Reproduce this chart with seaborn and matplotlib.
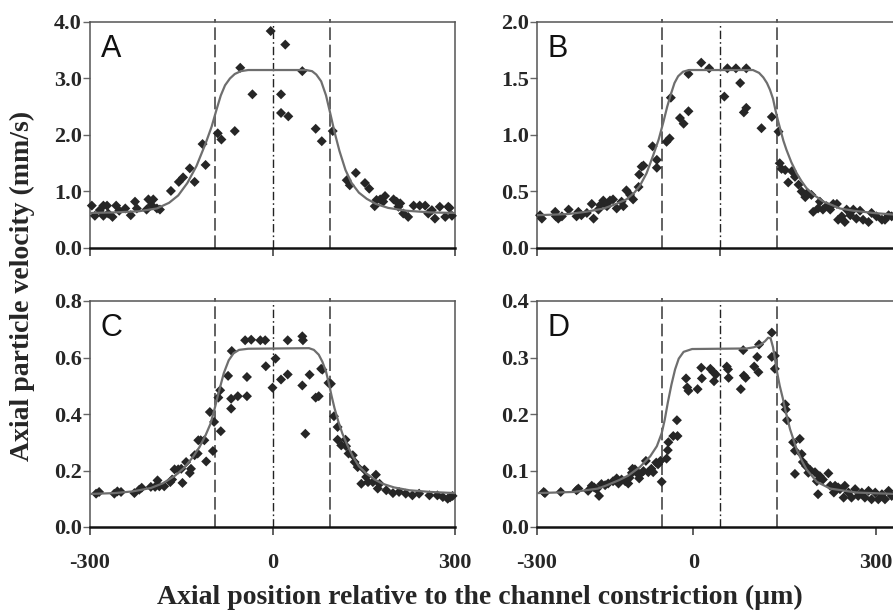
import numpy as np
import pandas as pd
import matplotlib
matplotlib.use("Agg")
import matplotlib.pyplot as plt
import seaborn as sns

# ---------------- data ----------------
# Panel A
a_x = [-297, -292, -284, -278, -278, -272, -270, -263, -257, -252, -242, -233, -226, -223,
       -207, -204, -199, -196, -190, -185, -167, -154, -147, -136, -128, -115, -110, -90, -84,
       -62, -53, -33, -3, 14, 14, 21, 26, 49, 71, 81, 99, 122, 127, 137, 152, 159, 168, 171,
       177, 182, 185, 199, 204, 207, 210, 215, 223, 232, 242, 251, 256, 262, 267, 275, 284,
       289, 291, 295]
a_y = [0.75, 0.57, 0.67, 0.75, 0.57, 0.75, 0.61, 0.55, 0.75, 0.66, 0.70, 0.58, 0.82, 0.70,
       0.68, 0.86, 0.76, 0.86, 0.70, 0.68, 1.01, 1.17, 1.25, 1.41, 1.17, 1.84, 1.47, 2.03, 1.92,
       2.07, 3.19, 2.72, 3.84, 2.72, 2.39, 3.60, 2.33, 3.13, 2.11, 1.89, 2.07, 1.20, 1.11, 1.33,
       1.15, 1.05, 0.74, 0.85, 0.86, 0.82, 0.92, 0.86, 0.82, 0.73, 0.79, 0.61, 0.55, 0.75, 0.75,
       0.75, 0.61, 0.67, 0.52, 0.73, 0.55, 0.73, 0.71, 0.57]
a_fit_x = [-300, -260, -220, -190, -170, -155, -140, -125, -110, -100, -92, -85, -78, -70, -62,
           -52, -40, 0, 55, 65, 72, 80, 88, 95, 102, 110, 120, 130, 142, 155, 170, 190, 220, 260, 300]
a_fit_y = [0.62, 0.63, 0.65, 0.70, 0.80, 0.93, 1.15, 1.45, 1.85, 2.15, 2.45, 2.70, 2.88, 3.00,
           3.08, 3.13, 3.15, 3.15, 3.15, 3.13, 3.07, 2.95, 2.70, 2.38, 2.05, 1.72, 1.38, 1.15,
           0.98, 0.87, 0.78, 0.71, 0.66, 0.63, 0.62]

# Panel B
b_x = [-295, -292, -270, -269, -265, -259, -248, -235, -232, -227, -218, -210, -207, -199, -196,
       -191, -185, -180, -175, -169, -161, -158, -153, -147, -142, -133, -132, -128, -125, -110,
       -103, -103, -87, -82, -80, -65, -59, -51, -51, -30, -17, 8, 13, 27, 34, 40, 44, 44, 69, 86,
       97, 99, 102, 108, 113, 119, 124, 130, 135, 141, 143, 151, 154, 162, 165, 170, 176, 182,
       187, 193, 195, 201, 206, 209, 215, 220, 225, 231, 236, 245, 250, 258, 267, 272, 278, 283]
b_y = [0.29, 0.26, 0.32, 0.28, 0.26, 0.28, 0.34, 0.28, 0.32, 0.29, 0.31, 0.39, 0.26, 0.34, 0.38,
       0.42, 0.37, 0.42, 0.43, 0.35, 0.41, 0.37, 0.51, 0.47, 0.43, 0.54, 0.65, 0.72, 0.73, 0.90,
       0.78, 0.71, 0.94, 0.97, 1.33, 1.15, 1.10, 1.21, 1.54, 1.64, 1.59, 1.34, 1.59, 1.59, 1.46,
       1.20, 1.24, 1.59, 1.06, 1.16, 1.03, 0.75, 0.70, 0.69, 0.58, 0.68, 0.63, 0.56, 0.50, 0.45,
       0.48, 0.47, 0.32, 0.35, 0.41, 0.34, 0.37, 0.34, 0.39, 0.39, 0.25, 0.28, 0.23, 0.34, 0.29,
       0.34, 0.26, 0.33, 0.25, 0.23, 0.31, 0.28, 0.25, 0.25, 0.29, 0.28]
b_fit_x = [-300, -250, -220, -190, -170, -153, -140, -131, -120, -109, -100, -92, -86, -80, -74,
           -68, -60, -50, 55, 65, 72, 78, 83, 88, 92, 96, 100, 105, 110, 118, 127, 135, 143, 155,
           171, 185, 198, 220, 253, 300]
b_fit_y = [0.29, 0.30, 0.32, 0.35, 0.39, 0.43, 0.49, 0.55, 0.66, 0.82, 0.96, 1.12, 1.25, 1.36,
           1.46, 1.52, 1.56, 1.575, 1.575, 1.55, 1.51, 1.46, 1.40, 1.32, 1.22, 1.13, 1.05, 0.95,
           0.87, 0.76, 0.66, 0.59, 0.53, 0.47, 0.41, 0.38, 0.35, 0.33, 0.31, 0.29]

# Panel C
c_x = [-290, -285, -260, -255, -249, -227, -219, -215, -200, -193, -189, -186, -178, -168, -165,
       -161, -155, -148, -150, -142, -136, -134, -128, -123, -122, -118, -112, -109, -103, -98,
       -96, -89, -86, -85, -73, -68, -68, -67, -57, -45, -42, -42, -35, -20, -12, -11, 0, 5, 14,
       25, 25, 49, 49, 50, 54, 61, 71, 76, 80, 82, 92, 96, 101, 107, 107, 113, 120, 121, 125, 132,
       135, 140, 146, 151, 154, 157, 165, 170, 173, 176, 187, 198, 208, 219, 230, 241, 258, 271,
       280, 288, 292, 296]
c_y = [0.118, 0.124, 0.118, 0.126, 0.124, 0.120, 0.132, 0.139, 0.142, 0.142, 0.165, 0.144, 0.144,
       0.159, 0.168, 0.204, 0.204, 0.156, 0.206, 0.230, 0.191, 0.206, 0.254, 0.260, 0.307, 0.307,
       0.307, 0.232, 0.407, 0.269, 0.372, 0.458, 0.484, 0.339, 0.535, 0.419, 0.454, 0.623, 0.463,
       0.661, 0.531, 0.463, 0.663, 0.661, 0.661, 0.569, 0.493, 0.596, 0.522, 0.540, 0.661, 0.501,
       0.675, 0.661, 0.330, 0.539, 0.458, 0.463, 0.560, 0.557, 0.510, 0.507, 0.392, 0.354, 0.309,
       0.289, 0.309, 0.286, 0.260, 0.254, 0.230, 0.212, 0.153, 0.203, 0.177, 0.159, 0.159, 0.185,
       0.136, 0.153, 0.130, 0.120, 0.124, 0.118, 0.112, 0.118, 0.112, 0.112, 0.106, 0.100, 0.105,
       0.110]
c_fit_x = [-300, -260, -230, -200, -180, -160, -145, -130, -120, -110, -102, -95, -88, -80, -72,
           -64, -55, -40, 60, 68, 76, 82, 88, 93, 97, 102, 108, 115, 123, 132, 142, 154, 168, 181,
           200, 225, 260, 300]
c_fit_y = [0.117, 0.120, 0.126, 0.138, 0.155, 0.182, 0.210, 0.250, 0.283, 0.325, 0.365, 0.420,
           0.480, 0.545, 0.590, 0.615, 0.627, 0.631, 0.633, 0.627, 0.610, 0.585, 0.550, 0.505,
           0.465, 0.420, 0.375, 0.330, 0.290, 0.250, 0.215, 0.190, 0.168, 0.153, 0.140, 0.130,
           0.124, 0.120]

# Panel D
d_x = [-289, -287, -261, -235, -232, -216, -210, -206, -202, -198, -194, -188, -183, -175, -169,
       -166, -161, -155, -150, -148, -144, -143, -139, -136, -132, -131, -125, -121, -117, -112,
       -109, -104, -101, -97, -95, -87, -85, -84, -76, -70, -69, -55, -53, -51, -36, -30, -29,
       -15, -10, -9, -6, 12, 14, 15, 35, 39, 40, 43, 57, 62, 64, 65, 86, 86, 91, 91, 108, 109, 111,
       121, 124, 132, 135, 137, 124, 142, 149, 146, 157, 160, 165, 170, 162, 179, 182, 188, 190,
       195, 198, 204, 206, 212, 217, 223, 228, 234, 239, 245, 250, 256, 261, 267, 272, 278, 283]
d_y = [0.062, 0.060, 0.062, 0.065, 0.068, 0.064, 0.073, 0.070, 0.067, 0.055, 0.076, 0.074, 0.077,
       0.081, 0.086, 0.077, 0.084, 0.081, 0.077, 0.087, 0.096, 0.103, 0.102, 0.096, 0.086, 0.093,
       0.099, 0.117, 0.097, 0.103, 0.097, 0.114, 0.111, 0.117, 0.080, 0.121, 0.136, 0.150, 0.161,
       0.189, 0.161, 0.263, 0.247, 0.241, 0.244, 0.282, 0.263, 0.280, 0.274, 0.258, 0.270, 0.284,
       0.279, 0.264, 0.244, 0.313, 0.268, 0.264, 0.284, 0.301, 0.274, 0.323, 0.344, 0.301, 0.303,
       0.280, 0.217, 0.208, 0.189, 0.150, 0.135, 0.156, 0.129, 0.115, 0.094, 0.108, 0.101, 0.096,
       0.097, 0.081, 0.090, 0.084, 0.058, 0.095, 0.073, 0.061, 0.073, 0.070, 0.067, 0.052, 0.073,
       0.061, 0.052, 0.067, 0.055, 0.061, 0.052, 0.064, 0.049, 0.061, 0.049, 0.058, 0.049, 0.064,
       0.055]
d_fit_x = [-300, -240, -200, -185, -165, -150, -131, -114, -103, -95, -90, -85, -79, -73, -67,
           -59, -45, 45, 56, 67, 75, 80, 84, 88, 91, 95, 99, 104, 108, 116, 127, 135, 143, 160,
           182, 225, 300]
d_fit_y = [0.060, 0.062, 0.068, 0.074, 0.083, 0.091, 0.106, 0.125, 0.143, 0.166, 0.190, 0.220,
           0.252, 0.279, 0.298, 0.310, 0.315, 0.316, 0.318, 0.322, 0.329, 0.335, 0.334, 0.318,
           0.298, 0.272, 0.250, 0.228, 0.208, 0.173, 0.137, 0.118, 0.102, 0.080, 0.068, 0.061,
           0.058]

panel_labels = ["A", "B", "C", "D"]
y_ticks = [[0, 1, 2, 3, 4], [0, 0.5, 1.0, 1.5, 2.0], [0, 0.2, 0.4, 0.6, 0.8], [0, 0.1, 0.2, 0.3, 0.4]]
y_ticklabels = [["0.0", "1.0", "2.0", "3.0", "4.0"], ["0.0", "0.5", "1.0", "1.5", "2.0"],
                ["0.0", "0.2", "0.4", "0.6", "0.8"], ["0.0", "0.1", "0.2", "0.3", "0.4"]]
x_ticks = [[-300, 0, 300], [-300, 0], [-300, 0, 300], [-300, -43, 257]]
x_ticklabels = [["", "", ""], ["", ""], ["-300", "0", "300"], ["-300", "0", "300"]]
constriction_edges = [-94, 94]
center_line = 0
y_label = "Axial particle velocity (mm/s)"
x_label = "Axial position relative to the channel constriction (\u00b5m)"

# ---------------- plotting ----------------
sns.set_theme(style="white")
plt.rcParams["font.family"] = ["Liberation Serif", "DejaVu Serif"]

fig = plt.figure(figsize=(8.93, 6.15), dpi=100)
W, H = 893.0, 615.0
aw, ah = 365 / W, 226 / H
positions = [
    [90 / W, (H - 248) / H, aw, ah],
    [537 / W, (H - 248) / H, aw, ah],
    [90 / W, (H - 527) / H, aw, ah],
    [537 / W, (H - 527) / H, aw, ah],
]
panels = [
    (a_x, a_y, a_fit_x, a_fit_y),
    (b_x, b_y, b_fit_x, b_fit_y),
    (c_x, c_y, c_fit_x, c_fit_y),
    (d_x, d_y, d_fit_x, d_fit_y),
]

for i, (px, py, fx, fy) in enumerate(panels):
    ax = fig.add_axes(positions[i])
    ymax = y_ticks[i][-1]
    pts = pd.DataFrame({"x": px, "y": py})
    fit = pd.DataFrame({"x": fx, "y": fy})
    for xv in constriction_edges:
        ax.axvline(xv, ymin=0, ymax=1.012, color="#555555", lw=1.3, dashes=(7, 2.6),
                   clip_on=False, zorder=1)
    ax.axvline(center_line, color="#222222", lw=1.0, dashes=(6, 2.2, 1.2, 2.2), zorder=1)
    sns.scatterplot(data=pts, x="x", y="y", marker="D", s=26, color="#262626",
                    edgecolor="none", ax=ax, zorder=3, clip_on=False)
    sns.lineplot(data=fit, x="x", y="y", sort=False, estimator=None, color="#6e6e6e",
                 lw=1.6, ax=ax, zorder=4)
    ax.set_xlim(-300, 300)
    ax.set_ylim(0, ymax)
    ax.set_xlabel("")
    ax.set_ylabel("")
    ax.set_yticks(y_ticks[i])
    ax.set_yticklabels(y_ticklabels[i], fontweight="bold", fontsize=16)
    ax.set_xticks(x_ticks[i])
    ax.set_xticklabels(x_ticklabels[i], fontweight="bold", fontsize=16)
    ax.tick_params(axis="y", direction="out", length=5, width=1.0, color="#666666", pad=1,
                   left=True)
    ax.tick_params(axis="x", direction="out", length=6, width=1.2, color="#444444", pad=13,
                   bottom=True)
    for side in ["top", "right", "left"]:
        ax.spines[side].set_visible(True)
        ax.spines[side].set_color("#555555")
        ax.spines[side].set_linewidth(1.1)
    ax.spines["bottom"].set_color("#111111")
    ax.spines["bottom"].set_linewidth(1.8)
    ax.text(0.03, 0.945, panel_labels[i], transform=ax.transAxes, ha="left", va="top",
            fontsize=22, family=["Liberation Sans", "DejaVu Sans"], color="#111111")

fig.text(0.025, 0.535, y_label, rotation=90, ha="center", va="center",
         fontsize=20, fontweight="bold")
fig.text(480 / W, 1 - 597 / H, x_label, ha="center", va="center",
         fontsize=20, fontweight="bold")

fig.savefig("out.png", dpi=100)
